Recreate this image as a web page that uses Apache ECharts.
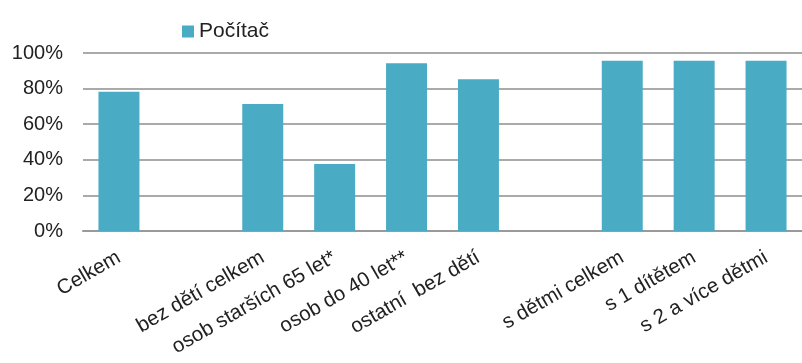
<!DOCTYPE html>
<html>
<head>
<meta charset="utf-8">
<script src="https://cdn.jsdelivr.net/npm/echarts@6/dist/echarts.min.js"></script>
<style>
  html, body { margin: 0; padding: 0; background: #fff; }
  #chart { width: 802px; height: 363px; }
</style>
</head>
<body>
<div id="chart"></div>
<script>
var categories = ["Celkem", "", "bez dětí celkem", "osob starších 65 let*", "osob do 40 let**",
  "ostatní  bez dětí", "", "s dětmi celkem", "s 1 dítětem", "s 2 a více dětmi"];
var pocitac = [78.3, null, 71.3, 37.6, 94.2, 85.2, null, 95.7, 95.7, 95.7];
var yTicks = [0, 20, 40, 60, 80, 100];

var chart = echarts.init(document.getElementById("chart"));

var option = {
  animation: false,
  textStyle: { fontFamily: "Liberation Sans, Arial, sans-serif" },
  legend: {
    data: ["Počítač"],
    left: 177,
    top: 16,
    icon: "rect",
    itemWidth: 12,
    itemHeight: 12,
    itemGap: 9,
    textStyle: { fontSize: 21, color: "#222" }
  },
  grid: {
    left: 83,
    right: 0,
    top: 53,
    bottom: 132
  },
  xAxis: {
    type: "category",
    data: categories,
    axisLine: { show: true, lineStyle: { color: "#9a9a9a", width: 2 } },
    axisTick: { show: false },
    axisLabel: {
      interval: 0,
      rotate: 30,
      margin: 25,
      fontSize: 20.5,
      color: "#222"
    }
  },
  yAxis: {
    type: "value",
    min: yTicks[0],
    max: yTicks[yTicks.length - 1],
    interval: 20,
    axisLine: { show: false },
    axisTick: { show: false },
    axisLabel: {
      fontSize: 20,
      color: "#222",
      margin: 20,
      formatter: function (v) { return v + "%"; }
    },
    splitLine: {
      show: true,
      lineStyle: { color: "#aaaaaa", width: 2 }
    }
  },
  series: [
    {
      name: "Počítač",
      type: "bar",
      barWidth: "57%",
      data: pocitac,
      itemStyle: { color: "#4aabc5" }
    }
  ]
};

chart.setOption(option);
</script>
</body>
</html>
